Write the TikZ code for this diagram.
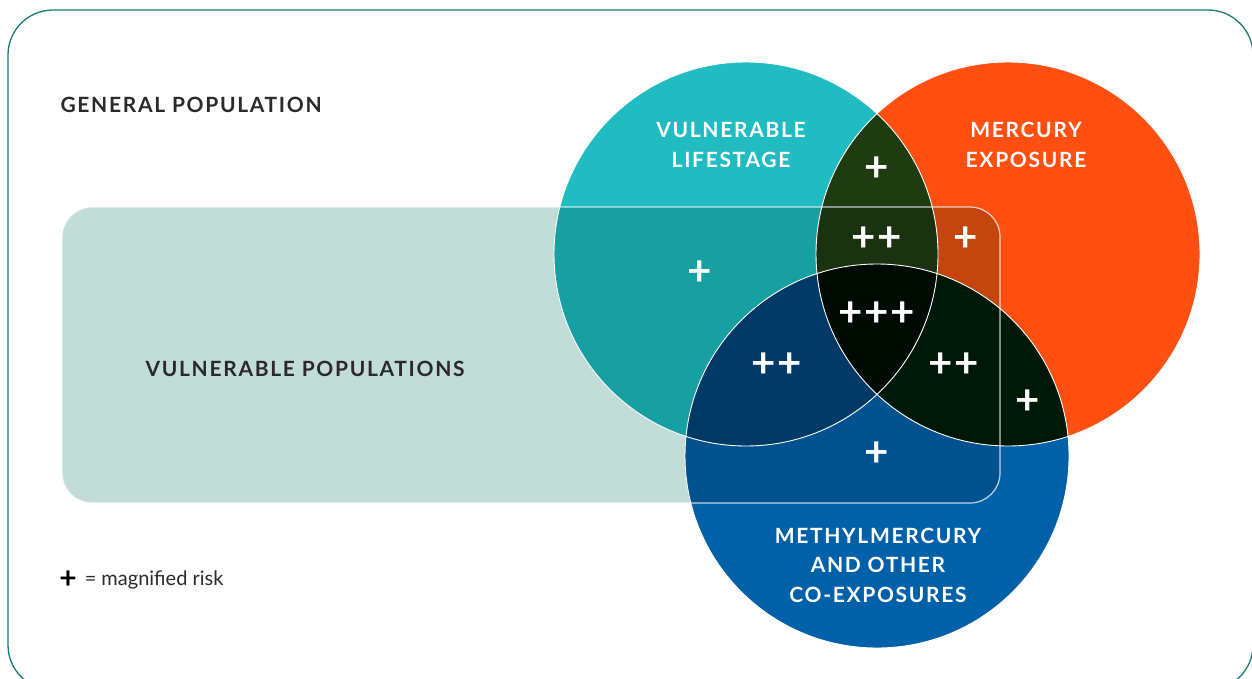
\documentclass[tikz,border=0pt]{standalone}
\usepackage{fontspec}
\setmainfont{Lato}
\newfontfamily\lblfont[LetterSpace=8.0]{Lato}
\newfontfamily\riskfont[LetterSpace=4.0]{Lato}
\usetikzlibrary{positioning}

\definecolor{frameteal}{HTML}{1B7B72}
\definecolor{palegreen}{HTML}{C2DCD8}
\definecolor{lifeteal}{HTML}{20BCC1}
\definecolor{lifetealdk}{HTML}{179FA2}
\definecolor{mercorange}{HTML}{FF5011}
\definecolor{mercorangedk}{HTML}{C4450E}
\definecolor{methblue}{HTML}{0060A8}
\definecolor{methbluedk}{HTML}{035290}
\definecolor{lifemerc}{HTML}{1F3B10}
\definecolor{lifemercdk}{HTML}{1A3210}
\definecolor{lifemeth}{HTML}{013A66}
\definecolor{mercmeth}{HTML}{001808}
\definecolor{allthree}{HTML}{000A05}
\definecolor{labelgray}{HTML}{2A2A2A}

% the three sets
\def\lifecirc{(746,254) circle (192pt)}
\def\merccirc{(1008,254) circle (192pt)}
\def\methcirc{(877,456) circle (192pt)}

% fill all regions: #1 life, #2 merc, #3 meth, #4 life+merc, #5 life+meth, #6 merc+meth, #7 all
\newcommand{\vennregions}[7]{
  \fill[#1] \lifecirc;
  \fill[#2] \merccirc;
  \fill[#3] \methcirc;
  \begin{scope}
    \clip \lifecirc;
    \fill[#4] \merccirc;
    \fill[#5] \methcirc;
    \clip \merccirc;
    \fill[#7] \methcirc;
  \end{scope}
  \begin{scope}
    \clip \merccirc;
    \fill[#6] \methcirc;
    \clip \lifecirc;
    \fill[#7] \methcirc;
  \end{scope}
}

\begin{document}
\begin{tikzpicture}[x=1pt,y=-1pt,
    setlabel/.style={font=\lblfont\bfseries\fontsize{21}{29.5}\selectfont, text=white, align=center},
    outlabel/.style={font=\lblfont\bfseries\fontsize{21}{29}\selectfont, text=labelgray, anchor=west},
    risk/.style={font=\riskfont\bfseries\fontsize{42}{42}\selectfont, text=white}]
  \useasboundingbox (0,0) rectangle (1252,679);
  \draw[frameteal, line width=1.3pt, rounded corners=45pt] (8,10) rectangle (1253,690);

  % vulnerable populations box behind the circles
  \fill[palegreen, rounded corners=30pt] (62,207) rectangle (1000,503);

  \vennregions{lifeteal}{mercorange}{methblue}{lifemerc}{lifemeth}{mercmeth}{allthree}
  \begin{scope}
    \clip[rounded corners=30pt] (62,207) rectangle (1000,503);
    \vennregions{lifetealdk}{mercorangedk}{methbluedk}{lifemercdk}{lifemeth}{mercmeth}{allthree}
  \end{scope}

  \draw[white, line width=0.9pt] \lifecirc;
  \draw[white, line width=0.9pt] \merccirc;
  \draw[white, line width=0.9pt] \methcirc;
  \draw[white, opacity=0.75, line width=1.2pt, rounded corners=30pt] (62,207) rectangle (1000,503);

  \node[outlabel] (general) at (57,105) {GENERAL POPULATION};
  \node[outlabel] (vulpop) at (142,369) {VULNERABLE POPULATIONS};

  \node[setlabel] (lifelbl) at (731,145) {VULNERABLE\\LIFESTAGE};
  \node[setlabel] (merclbl) at (1026,145) {MERCURY\\EXPOSURE};
  \node[setlabel] (methlbl) at (878,565) {METHYLMERCURY\\AND OTHER\\CO-EXPOSURES};

  \node[risk] (lm) at (877,169) {+};
  \node[risk] (lmbox) at (877,239) {++};
  \node[risk] (mbox) at (966,239) {+};
  \node[risk] (lbox) at (700,273) {+};
  \node[risk] (lmm) at (877,314) {+++};
  \node[risk] (lmeth) at (777,365) {++};
  \node[risk] (mmeth) at (954,365) {++};
  \node[risk] (mmethout) at (1028,402) {+};
  \node[risk] (methbox) at (877,454) {+};

  \node[font=\bfseries\fontsize{30}{30}\selectfont, text=black] (legplus) at (68,580) {+};
  \node[font=\fontsize{20}{20}\selectfont, text=labelgray, anchor=west, right=1pt of legplus] (legtext) {= magnified risk};
\end{tikzpicture}
\end{document}
